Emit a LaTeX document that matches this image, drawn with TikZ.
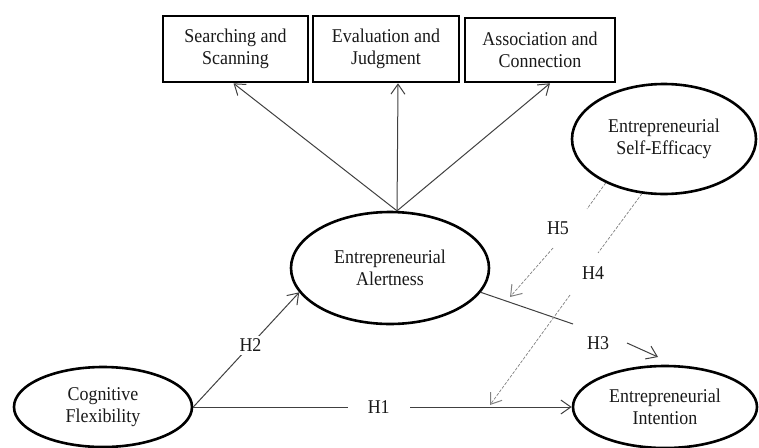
\documentclass[tikz,border=0pt]{standalone}
\usepackage{fontspec}
\setmainfont{Liberation Serif}[FakeStretch=0.92]
\usetikzlibrary{shapes.geometric,arrows.meta,calc}
\begin{document}
\begin{tikzpicture}[x=1pt,y=-1pt,
  every node/.style={font=\fontsize{19.5}{22}\selectfont, align=center, text=black!90},
  box/.style={draw, line width=2.6pt, minimum width=#1, minimum height=66pt, inner sep=0pt},
  ell/.style={draw, ellipse, line width=2.6pt, inner sep=0pt},
  conn/.style={line width=1pt, draw=black!75},
  tip/.style={-{Straight Barb[length=10pt,width=14pt,line width=1pt]}},
  arr/.style={conn, tip},
  dsh/.style={line width=0.7pt, draw=black!50, dash pattern=on 3pt off 1.5pt},
  lbl/.style={fill=white, inner xsep=#1, inner ysep=3pt}
]
\useasboundingbox (0,0) rectangle (759,447);

\node[box=145pt] (b1) at (235.5,49) {Searching and\\Scanning};
\node[box=146pt] (b2) at (386,49) {Evaluation and\\Judgment};
\node[box=150pt, minimum height=64pt] (b3) at (540,50) {Association and\\Connection};

\node[ell, minimum width=198pt, minimum height=112pt] (alert) at (390,268) {Entrepreneurial\\Alertness};
\node[ell, minimum width=184pt, minimum height=110pt] (se) at (664,139) {Entrepreneurial\\Self-Efficacy};
\node[ell, minimum width=178pt, minimum height=80pt] (cog) at (103,407) {Cognitive\\Flexibility};
\node[ell, minimum width=184pt, minimum height=82pt] (int) at (665,407) {Entrepreneurial\\Intention};

% alertness dimensions
\draw[arr] (alert.83) -- ($(b1.south)+(-2,0)$);
\draw[arr] (alert.83) -- ($(b2.south)+(12,0)$);
\draw[arr] (alert.83) -- ($(b3.south)+(10,0)$);

% H1, H2
\draw[arr] (cog.east) -- node[lbl=10pt, pos=0.54]{H2} (alert.195);
\draw[arr] (cog.east) -- node[lbl=20pt, pos=0.49]{H1} (int.west);

% H3
\coordinate (h3a) at (573,324);
\coordinate (h3b) at (627,343);
\coordinate (h3c) at (658,357);
\draw[conn] (alert.-15) -- (h3a);
\node (h3) at (598,343) {H3};
\draw[arr] (h3b) -- (h3c);

% H5
\coordinate (h5a) at (587,209);
\coordinate (h5b) at (553,248);
\coordinate (h5c) at (510,297);
\draw[dsh] (se.217) -- (h5a);
\node (h5) at (558,228) {H5};
\draw[dsh, tip] (h5b) -- (h5c);

% H4
\coordinate (h4a) at (598,253);
\coordinate (h4b) at (570,295);
\coordinate (h4c) at (490,405);
\draw[dsh] (se.248) -- (h4a);
\node (h4) at (593,273) {H4};
\draw[dsh, tip] (h4b) -- (h4c);
\end{tikzpicture}
\end{document}
